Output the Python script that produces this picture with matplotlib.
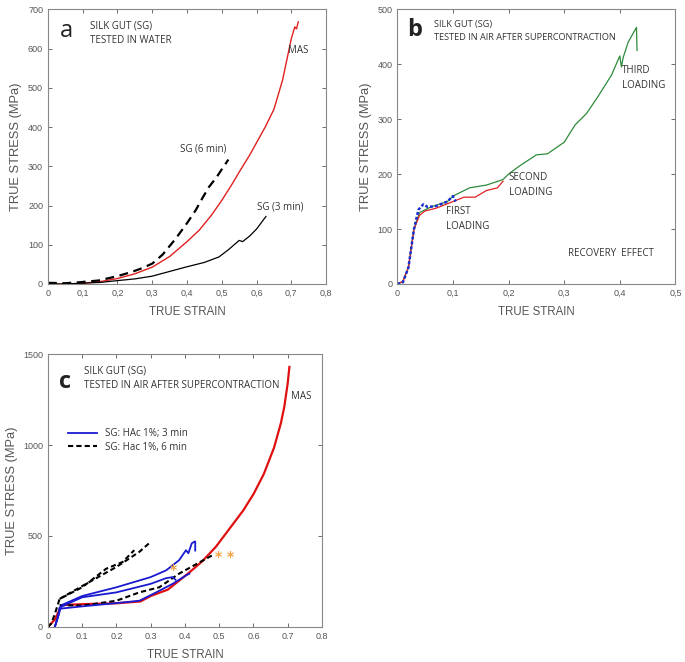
import numpy as np
import matplotlib
matplotlib.use("Agg")
import matplotlib.pyplot as plt

# ---------------- panel a : tested in water ----------------
a_mas_x = [0, 0.05, 0.1, 0.15, 0.2, 0.25, 0.3, 0.35, 0.4, 0.435, 0.47, 0.5, 0.53, 0.55, 0.58, 0.6,
           0.625, 0.65, 0.675, 0.7, 0.705, 0.71, 0.715, 0.72]
a_mas_y = [0, 0, 2, 6, 14, 26, 43, 70, 108, 137, 175, 213, 255, 285, 328, 360,
           400, 445, 520, 625, 640, 655, 650, 668]
a_sg6_x = [0, 0.05, 0.1, 0.146, 0.2, 0.242, 0.27, 0.3, 0.33, 0.367, 0.4, 0.425, 0.445, 0.463, 0.485, 0.5, 0.519]
a_sg6_y = [3, 2, 5, 9, 20, 31, 40, 52, 75, 115, 155, 188, 220, 247, 272, 292, 317]
a_sg3_x = [0, 0.05, 0.1, 0.15, 0.204, 0.25, 0.3, 0.35, 0.396, 0.45, 0.492, 0.52, 0.55, 0.56, 0.58, 0.6, 0.627]
a_sg3_y = [0, 0, 2, 4, 9, 13, 20, 32, 43, 55, 69, 88, 111, 108, 122, 140, 172]

# ---------------- panel b : recovery effect ----------------
b_first_x = [0, 0.01, 0.02, 0.03, 0.038, 0.042, 0.047, 0.055, 0.07, 0.09, 0.1, 0.105]
b_first_y = [0, 3, 30, 100, 135, 140, 145, 140, 142, 150, 160, 150]
b_second_x = [0, 0.01, 0.02, 0.03, 0.04, 0.05, 0.07, 0.1, 0.12, 0.14, 0.16, 0.18, 0.19]
b_second_y = [0, 5, 30, 100, 125, 133, 138, 150, 158, 158, 170, 175, 187]
b_third_x = [0, 0.01, 0.02, 0.03, 0.04, 0.06, 0.09, 0.1, 0.13, 0.16, 0.19, 0.2, 0.22, 0.25, 0.27,
             0.3, 0.32, 0.34, 0.36, 0.385, 0.4, 0.403, 0.406, 0.415, 0.43, 0.431]
b_third_y = [0, 4, 30, 100, 130, 140, 150, 160, 175, 180, 190, 200, 215, 235, 237,
             258, 290, 310, 340, 380, 415, 395, 412, 440, 467, 425]

# ---------------- panel c : HAc treated ----------------
c_mas_x = [0, 0.02, 0.04, 0.1, 0.2, 0.27, 0.3, 0.35, 0.41, 0.45, 0.49, 0.54, 0.57, 0.6, 0.63, 0.66, 0.68, 0.69, 0.7, 0.705]
c_mas_y = [0, 40, 120, 125, 130, 140, 170, 205, 295, 360, 440, 565, 640, 730, 840, 985, 1120, 1210, 1340, 1430]
c_b1_x = [0.02, 0.03, 0.04, 0.1, 0.2, 0.3, 0.345, 0.383, 0.403, 0.41, 0.42, 0.427, 0.43, 0.43]
c_b1_y = [0, 60, 120, 170, 218, 274, 311, 367, 422, 405, 460, 468, 470, 420]
c_b2_x = [0.02, 0.03, 0.034, 0.1, 0.2, 0.3, 0.345, 0.364, 0.372]
c_b2_y = [0, 60, 107, 163, 190, 237, 268, 274, 260]
c_b3_x = [0.02, 0.03, 0.034, 0.1, 0.2, 0.267, 0.316, 0.364, 0.403, 0.413]
c_b3_y = [0, 60, 100, 113, 131, 144, 190, 237, 283, 293]
c_d1_x = [0, 0.01, 0.02, 0.034, 0.1, 0.17, 0.218, 0.252]
c_d1_y = [0, 20, 70, 154, 218, 320, 357, 422]
c_d2_x = [0.034, 0.12, 0.2, 0.267, 0.3]
c_d2_y = [154, 246, 330, 413, 468]
c_d3_x = [0.034, 0.1, 0.2, 0.267, 0.325, 0.383, 0.48]
c_d3_y = [120, 117, 144, 190, 218, 293, 394]

TXT = dict(family="Open Sans", color="#333333", fontsize=7.0)
GRAY = "#555555"

fig = plt.figure(figsize=(6.85, 6.62), dpi=100)
ax_a = fig.add_axes([0.070, 0.571, 0.406, 0.415])
ax_b = fig.add_axes([0.580, 0.571, 0.406, 0.415])
ax_c = fig.add_axes([0.070, 0.053, 0.400, 0.412])


def style(ax, xt, xl, yt, xlim, ylim):
    ax.set_xlim(*xlim); ax.set_ylim(*ylim)
    ax.set_xticks(xt); ax.set_xticklabels(xl)
    ax.set_yticks(yt)
    ax.tick_params(direction="in", top=True, right=True, labelsize=6.5,
                   colors=GRAY, length=3, width=0.6)
    for lab in ax.get_xticklabels() + ax.get_yticklabels():
        lab.set_family("Liberation Sans")
    for s in ax.spines.values():
        s.set_color("#888888"); s.set_linewidth(0.8)
    ax.set_xlabel("TRUE STRAIN", fontsize=8.3, color=GRAY, family="Liberation Sans", labelpad=6)
    ax.set_ylabel("TRUE STRESS (MPa)", fontsize=9.3, color=GRAY, family="Liberation Sans", labelpad=4)


# panel a
ax_a.plot(a_mas_x, a_mas_y, color="#e02020", lw=1.0)
ax_a.plot(a_sg6_x, a_sg6_y, color="black", lw=1.6, ls=(0, (4, 2.5)))
ax_a.plot(a_sg3_x, a_sg3_y, color="black", lw=0.9)
style(ax_a, np.arange(0, 0.81, 0.1), ["0", "0,1", "0,2", "0,3", "0,4", "0,5", "0,6", "0,7", "0,8"],
      np.arange(0, 701, 100), (0, 0.8), (0, 700))
ax_a.text(0.035, 675, "a", fontsize=17, family="Open Sans", va="top", color="#222222")
ax_a.text(0.12, 672, "SILK GUT (SG)\nTESTED IN WATER", va="top", linespacing=1.5, **TXT)
ax_a.text(0.69, 596, "MAS", va="center", **TXT)
ax_a.text(0.38, 344, "SG (6 min)", va="center", **TXT)
ax_a.text(0.6, 197, "SG (3 min)", va="center", **TXT)

# panel b
ax_b.plot(b_third_x, b_third_y, color="#2e8b3a", lw=0.9)
ax_b.plot(b_second_x, b_second_y, color="#e02020", lw=0.9)
ax_b.plot(b_first_x, b_first_y, color="#1a2fd0", lw=1.8, ls=(0, (1.2, 0.8)))
style(ax_b, np.arange(0, 0.51, 0.1), ["0", "0,1", "0,2", "0,3", "0,4", "0,5"],
      np.arange(0, 501, 100), (0, 0.5), (0, 500))
ax_b.text(0.018, 484, "b", fontsize=17, family="Open Sans", va="top", color="#222222", fontweight="bold")
ax_b.text(0.066, 480, "SILK GUT (SG)\nTESTED IN AIR AFTER SUPERCONTRACTION", va="top", linespacing=1.5,
          family="Open Sans", color="#333333", fontsize=6.6)
ax_b.text(0.404, 375, "THIRD\nLOADING", va="center", linespacing=1.5, **TXT)
ax_b.text(0.2, 180, "SECOND\nLOADING", va="center", linespacing=1.5, **TXT)
ax_b.text(0.088, 118, "FIRST\nLOADING", va="center", linespacing=1.5, **TXT)
ax_b.text(0.307, 55, "RECOVERY  EFFECT", va="center", **TXT)

# panel c
ax_c.plot(c_mas_x, c_mas_y, color="#e01010", lw=1.6)
for xs, ys in [(c_d1_x, c_d1_y), (c_d2_x, c_d2_y), (c_d3_x, c_d3_y)]:
    ax_c.plot(xs, ys, color="black", lw=1.5, ls=(0, (2.5, 1.5)))
ax_c.plot(c_b1_x, c_b1_y, color="#1a1ad0", lw=1.3, label="SG: HAc 1%; 3 min")
ax_c.plot(c_b2_x, c_b2_y, color="#1a1ad0", lw=1.3)
ax_c.plot(c_b3_x, c_b3_y, color="#1a1ad0", lw=1.3)
ax_c.plot([], [], color="black", lw=1.5, ls=(0, (2.5, 1.5)), label="SG: Hac 1%, 6 min")
style(ax_c, np.arange(0, 0.81, 0.1), ["0", "0.1", "0.2", "0.3", "0.4", "0.5", "0.6", "0.7", "0.8"],
      [0, 500, 1000, 1500], (0, 0.8), (0, 1500))
ax_c.text(0.033, 1415, "c", fontsize=17, family="Open Sans", va="top", color="#222222", fontweight="bold")
ax_c.text(0.105, 1440, "SILK GUT (SG)\nTESTED IN AIR AFTER SUPERCONTRACTION", va="top", linespacing=1.5, **TXT)
ax_c.text(0.71, 1265, "MAS", va="center", **TXT)
ax_c.text(0.365, 315, "*", color="#f0a040", fontsize=10, ha="center", va="center", fontweight="bold")
ax_c.text(0.516, 385, "* *", color="#f0a040", fontsize=10, ha="center", va="center", fontweight="bold")
leg = ax_c.legend(loc="upper left", bbox_to_anchor=(0.04, 0.76), frameon=False,
                  prop=dict(family="Open Sans", size=7.0), handlelength=3.0,
                  labelspacing=0.25, borderaxespad=0.5, handletextpad=0.8)
for t in leg.get_texts():
    t.set_color("#333333")

fig.savefig("out.png", dpi=100)
